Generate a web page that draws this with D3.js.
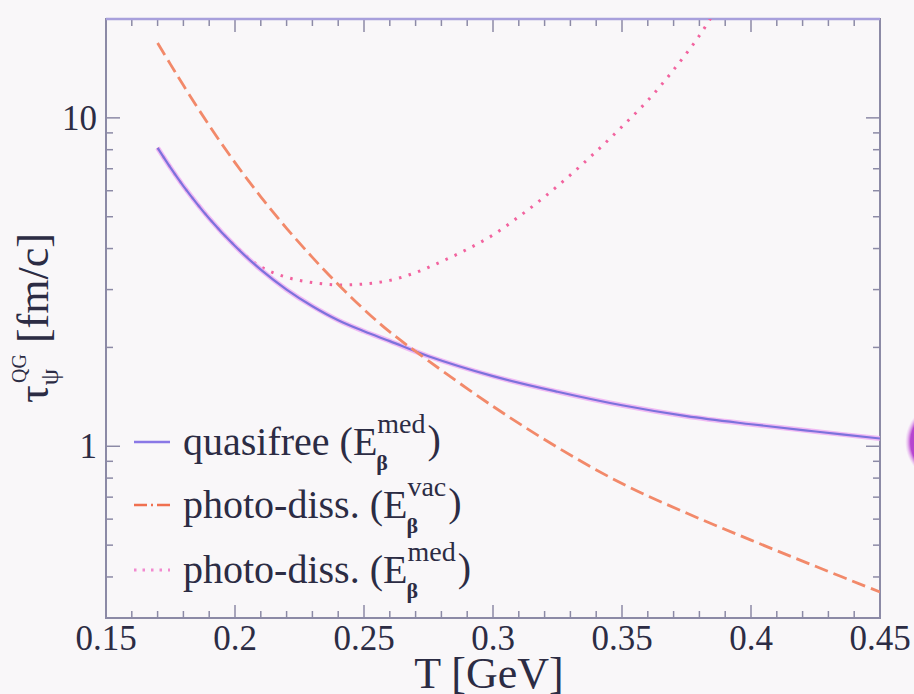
<!DOCTYPE html>
<html>
<head>
<meta charset="utf-8">
<script src="https://cdn.jsdelivr.net/npm/d3@7"></script>
<style>
  html, body { margin: 0; padding: 0; background: #f9f7f9; }
  svg { display: block; }
  text { font-family: "Liberation Serif", "Times New Roman", serif; fill: #2c2c44; }
</style>
</head>
<body>
<svg id="chart" width="914" height="694"></svg>
<script>
// ---- data ----
const xTickLabels = ["0.15", "0.2", "0.25", "0.3", "0.35", "0.4", "0.45"];
const xTicks = [0.15, 0.2, 0.25, 0.3, 0.35, 0.4, 0.45];
const yTicks = [1, 10];
const yTickLabels = ["1", "10"];

const quasifreeT = [0.17, 0.175, 0.18, 0.19, 0.20, 0.21, 0.22, 0.23, 0.24, 0.25, 0.26, 0.275, 0.30, 0.325, 0.35, 0.375, 0.40, 0.425, 0.45];
const quasifreeTau = [8.1, 7.05, 6.2, 4.94, 4.07, 3.45, 3.0, 2.67, 2.42, 2.24, 2.09, 1.88, 1.635, 1.466, 1.333, 1.235, 1.167, 1.109, 1.056];

const photoVacT = [0.17, 0.175, 0.18, 0.19, 0.20, 0.21, 0.22, 0.23, 0.24, 0.25, 0.26, 0.275, 0.30, 0.325, 0.35, 0.375, 0.40, 0.425, 0.45];
const photoVacTau = [16.9, 14.55, 12.56, 9.48, 7.31, 5.75, 4.61, 3.76, 3.11, 2.61, 2.23, 1.82, 1.323, 0.992, 0.77, 0.626, 0.518, 0.431, 0.36];

const photoMedT = [0.17, 0.175, 0.18, 0.19, 0.20, 0.21, 0.22, 0.23, 0.24, 0.25, 0.26, 0.27, 0.28, 0.29, 0.30, 0.31, 0.32, 0.33, 0.34, 0.35, 0.36, 0.37, 0.38, 0.385];
const photoMedTau = [8.1, 7.05, 6.2, 4.94, 4.08, 3.52, 3.27, 3.15, 3.1, 3.12, 3.2, 3.38, 3.65, 3.98, 4.4, 5.0, 5.75, 6.7, 7.9, 9.4, 11.3, 14.0, 17.8, 20.5];

const legendLabels = ["quasifree (E", "photo-diss. (E", "photo-diss. (E"];
const legendSup = ["med", "vac", "med"];
const legendSub = ["β", "β", "β"];

// ---- layout ----
const svg = d3.select("#chart");
const mL = 106, mR = 880, mT = 19, mB = 618;
const x = d3.scaleLinear().domain([0.15, 0.45]).range([mL, mR]);
const y = d3.scaleLog().domain([0.3, 20]).range([mB, mT]);

svg.append("rect").attr("width", 914).attr("height", 694).attr("fill", "#f9f7f9");

// right-edge magenta blob
const defs = svg.append("defs");
const rg = defs.append("radialGradient").attr("id", "blob");
rg.append("stop").attr("offset", "0%").attr("stop-color", "#a22cc0").attr("stop-opacity", 1);
rg.append("stop").attr("offset", "86%").attr("stop-color", "#b646d0").attr("stop-opacity", 1);
rg.append("stop").attr("offset", "100%").attr("stop-color", "#eaa8f0").attr("stop-opacity", 0);
svg.append("circle").attr("cx", 945).attr("cy", 442).attr("r", 40).attr("fill", "url(#blob)");

defs.append("clipPath").attr("id", "clip").append("rect")
  .attr("x", mL).attr("y", mT).attr("width", mR - mL).attr("height", mB - mT);

const axisColor = "#8c8aa6";

// ticks (inward, mirrored)
const minorX = d3.range(0.15, 0.4501, 0.01).map(v => +v.toFixed(2));
const g = svg.append("g");
minorX.forEach(v => {
  const major = xTicks.some(t => Math.abs(t - v) < 1e-6);
  const len = major ? 13 : 7;
  g.append("line").attr("x1", x(v)).attr("x2", x(v)).attr("y1", mB).attr("y2", mB - len)
    .attr("stroke", axisColor).attr("stroke-width", 1.5);
  g.append("line").attr("x1", x(v)).attr("x2", x(v)).attr("y1", mT).attr("y2", mT + len)
    .attr("stroke", axisColor).attr("stroke-width", 1.5);
});
const minorY = [0.3, 0.4, 0.5, 0.6, 0.7, 0.8, 0.9, 1, 2, 3, 4, 5, 6, 7, 8, 9, 10, 20];
minorY.forEach(v => {
  const major = yTicks.includes(v);
  const len = major ? 14 : 7;
  g.append("line").attr("x1", mL).attr("x2", mL + len).attr("y1", y(v)).attr("y2", y(v))
    .attr("stroke", axisColor).attr("stroke-width", 1.5);
  g.append("line").attr("x1", mR).attr("x2", mR - len).attr("y1", y(v)).attr("y2", y(v))
    .attr("stroke", axisColor).attr("stroke-width", 1.5);
});

// frame
svg.append("rect").attr("x", mL).attr("y", mT).attr("width", mR - mL).attr("height", mB - mT)
  .attr("fill", "none").attr("stroke", axisColor).attr("stroke-width", 2);
svg.append("line").attr("x1", mL).attr("x2", mR).attr("y1", mT).attr("y2", mT)
  .attr("stroke", "#a8a0dc").attr("stroke-width", 2.5);

// tick labels
xTicks.forEach((v, i) => {
  svg.append("text").attr("x", x(v)).attr("y", 650).attr("text-anchor", "middle")
    .attr("font-size", 35).text(xTickLabels[i]);
});
yTicks.forEach((v, i) => {
  svg.append("text").attr("x", 97).attr("y", y(v) + 12).attr("text-anchor", "end")
    .attr("font-size", 35).text(yTickLabels[i]);
});

// axis titles
svg.append("text").attr("x", 489).attr("y", 688).attr("text-anchor", "middle")
  .attr("font-size", 44).text("T [GeV]");

const yt = svg.append("text").attr("transform", "translate(48,318) rotate(-90)")
  .attr("text-anchor", "middle").attr("font-size", 44);
yt.append("tspan").text("τ");
yt.append("tspan").attr("font-size", 26).attr("dy", 10).text("ψ");
yt.append("tspan").attr("font-size", 20).attr("dx", -14).attr("dy", -32).text("QG");
yt.append("tspan").attr("dy", 22).text(" [fm/c]");

// curves
const plot = svg.append("g").attr("clip-path", "url(#clip)");
const line = d3.line().x(d => x(d[0])).y(d => y(d[1])).curve(d3.curveCatmullRom.alpha(0.5));
const qf = quasifreeT.map((t, i) => [t, quasifreeTau[i]]);
const pv = photoVacT.map((t, i) => [t, photoVacTau[i]]);
const pm = photoMedT.map((t, i) => [t, photoMedTau[i]]);

plot.append("path").attr("d", line(pm)).attr("fill", "none").attr("stroke", "#f2639f")
  .attr("stroke-width", 3).attr("stroke-dasharray", "2.5,7.5");
plot.append("path").attr("d", line(qf)).attr("fill", "none").attr("stroke", "#eeaaf2")
  .attr("stroke-width", 5).attr("opacity", 0.8);
plot.append("path").attr("d", line(qf)).attr("fill", "none").attr("stroke", "#7c72dc")
  .attr("stroke-width", 2.2);
plot.append("path").attr("d", line(pv)).attr("fill", "none").attr("stroke", "#f2896a")
  .attr("stroke-width", 2.8).attr("stroke-dasharray", "14,6");

// legend
const legBase = [455, 518, 583];
const legStyles = [
  { stroke: "#8a78e6", dash: null, w: 2.5 },
  { stroke: "#f07050", dash: "13,4,2,4", w: 2.5 },
  { stroke: "#f28ad0", dash: "2.5,6", w: 2.8 }
];
legBase.forEach((b, i) => {
  const st = legStyles[i];
  const ln = svg.append("line").attr("x1", 134).attr("x2", 170).attr("y1", b - 13).attr("y2", b - 13)
    .attr("stroke", st.stroke).attr("stroke-width", st.w);
  if (st.dash) ln.attr("stroke-dasharray", st.dash);
  const t = svg.append("text").attr("x", 183).attr("y", b).attr("font-size", 40).text(legendLabels[i]);
  const w = t.node().getComputedTextLength();
  const sup = svg.append("text").attr("x", 183 + w).attr("y", b - 22).attr("font-size", 28).text(legendSup[i]);
  const sub = svg.append("text").attr("x", 183 + w - 1).attr("y", b + 15).attr("font-size", 22)
    .attr("font-weight", "bold").attr("font-family", "DejaVu Sans").text(legendSub[i]);
  const ws = Math.max(sup.node().getComputedTextLength(), sub.node().getComputedTextLength());
  svg.append("text").attr("x", 183 + w + ws + 2).attr("y", b - 2).attr("font-size", 40).text(")");
});
</script>
</body>
</html>
